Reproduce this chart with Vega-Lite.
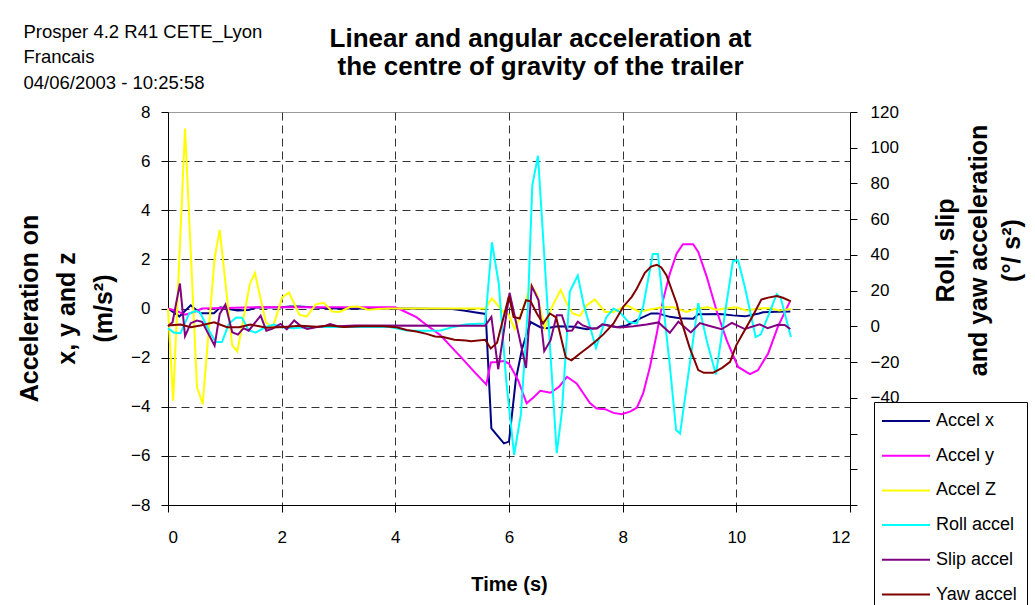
{
  "$schema": "https://vega.github.io/schema/vega-lite/v6.json",
  "width": 682,
  "height": 393,
  "autosize": "none",
  "padding": {"left": 168, "top": 112, "right": 185, "bottom": 100},
  "background": "white",
  "config": {
    "font": "Liberation Sans",
    "view": {"stroke": "#9a9a9a", "strokeWidth": 1},
    "axis": {"domainColor": "black", "tickColor": "black", "labelColor": "black", "titleColor": "black", "labelFontSize": 17, "labelFont": "Liberation Sans", "titleFont": "Liberation Sans", "tickSize": 7, "domainWidth": 1, "tickWidth": 1}
  },
  "title": {
    "text": ["Linear and angular acceleration at", "the centre of gravity of the trailer"],
    "font": "Liberation Sans",
    "fontSize": 26,
    "fontWeight": "bold",
    "color": "black",
    "anchor": "middle",
    "frame": "group",
    "baseline": "alphabetic",
    "lineHeight": 27.7,
    "offset": 0,
    "dx": 31.5,
    "dy": 79
  },
  "data": {"values": [
    {"s":"Accel x","t":0,"v":0},{"s":"Accel x","t":0.2,"v":-0.32},{"s":"Accel x","t":0.4,"v":0.13},{"s":"Accel x","t":0.57,"v":-0.19},{"s":"Accel x","t":0.81,"v":-0.19},{"s":"Accel x","t":0.92,"v":0.05},{"s":"Accel x","t":1.07,"v":-0.02},{"s":"Accel x","t":1.22,"v":-0.08},{"s":"Accel x","t":1.42,"v":-0.06},{"s":"Accel x","t":1.54,"v":0.04},{"s":"Accel x","t":2.0,"v":0.05},{"s":"Accel x","t":2.15,"v":0.08},{"s":"Accel x","t":2.3,"v":0.08},{"s":"Accel x","t":2.74,"v":0.02},{"s":"Accel x","t":3.0,"v":0},{"s":"Accel x","t":4.0,"v":0},{"s":"Accel x","t":5.0,"v":-0.02},{"s":"Accel x","t":5.2,"v":-0.08},{"s":"Accel x","t":5.39,"v":-0.15},{"s":"Accel x","t":5.59,"v":-0.22},{"s":"Accel x","t":5.69,"v":-4.88},{"s":"Accel x","t":5.91,"v":-5.49},{"s":"Accel x","t":6.0,"v":-5.42},{"s":"Accel x","t":6.12,"v":-2.9},{"s":"Accel x","t":6.23,"v":-1.64},{"s":"Accel x","t":6.38,"v":-0.55},{"s":"Accel x","t":6.55,"v":-0.76},{"s":"Accel x","t":6.67,"v":-0.8},{"s":"Accel x","t":6.85,"v":-0.72},{"s":"Accel x","t":7.14,"v":-0.74},{"s":"Accel x","t":7.37,"v":-0.84},{"s":"Accel x","t":7.55,"v":-0.8},{"s":"Accel x","t":7.66,"v":-0.64},{"s":"Accel x","t":7.9,"v":-0.76},{"s":"Accel x","t":8.07,"v":-0.69},{"s":"Accel x","t":8.31,"v":-0.4},{"s":"Accel x","t":8.5,"v":-0.2},{"s":"Accel x","t":8.62,"v":-0.2},{"s":"Accel x","t":8.83,"v":-0.34},{"s":"Accel x","t":9.01,"v":-0.4},{"s":"Accel x","t":9.24,"v":-0.42},{"s":"Accel x","t":9.33,"v":-0.23},{"s":"Accel x","t":9.71,"v":-0.22},{"s":"Accel x","t":9.94,"v":-0.28},{"s":"Accel x","t":10.15,"v":-0.32},{"s":"Accel x","t":10.4,"v":-0.2},{"s":"Accel x","t":10.47,"v":-0.15},{"s":"Accel x","t":10.7,"v":-0.13},{"s":"Accel x","t":10.95,"v":-0.12},
    {"s":"Accel y","t":0,"v":0},{"s":"Accel y","t":0.15,"v":-0.1},{"s":"Accel y","t":0.3,"v":-0.25},{"s":"Accel y","t":0.45,"v":-0.15},{"s":"Accel y","t":0.6,"v":0},{"s":"Accel y","t":1.0,"v":0.02},{"s":"Accel y","t":1.6,"v":0.05},{"s":"Accel y","t":4.0,"v":0.05},{"s":"Accel y","t":4.1,"v":-0.05},{"s":"Accel y","t":4.37,"v":-0.35},{"s":"Accel y","t":4.6,"v":-0.76},{"s":"Accel y","t":4.8,"v":-1.1},{"s":"Accel y","t":4.96,"v":-1.5},{"s":"Accel y","t":5.15,"v":-1.97},{"s":"Accel y","t":5.39,"v":-2.58},{"s":"Accel y","t":5.6,"v":-3.09},{"s":"Accel y","t":5.68,"v":-2.2},{"s":"Accel y","t":5.77,"v":-2.18},{"s":"Accel y","t":5.91,"v":-2.14},{"s":"Accel y","t":6.0,"v":-2.24},{"s":"Accel y","t":6.16,"v":-2.92},{"s":"Accel y","t":6.31,"v":-3.86},{"s":"Accel y","t":6.44,"v":-3.6},{"s":"Accel y","t":6.55,"v":-3.35},{"s":"Accel y","t":6.73,"v":-3.43},{"s":"Accel y","t":6.88,"v":-3.19},{"s":"Accel y","t":7.02,"v":-2.78},{"s":"Accel y","t":7.19,"v":-3.05},{"s":"Accel y","t":7.31,"v":-3.46},{"s":"Accel y","t":7.42,"v":-3.84},{"s":"Accel y","t":7.54,"v":-4.07},{"s":"Accel y","t":7.69,"v":-4.1},{"s":"Accel y","t":7.84,"v":-4.25},{"s":"Accel y","t":7.98,"v":-4.3},{"s":"Accel y","t":8.13,"v":-4.2},{"s":"Accel y","t":8.25,"v":-4.04},{"s":"Accel y","t":8.36,"v":-3.46},{"s":"Accel y","t":8.48,"v":-2.38},{"s":"Accel y","t":8.6,"v":-1.02},{"s":"Accel y","t":8.71,"v":0.34},{"s":"Accel y","t":8.83,"v":1.42},{"s":"Accel y","t":8.95,"v":2.24},{"s":"Accel y","t":9.06,"v":2.62},{"s":"Accel y","t":9.24,"v":2.62},{"s":"Accel y","t":9.33,"v":2.3},{"s":"Accel y","t":9.48,"v":1.29},{"s":"Accel y","t":9.65,"v":-0.07},{"s":"Accel y","t":9.83,"v":-1.29},{"s":"Accel y","t":10.03,"v":-2.38},{"s":"Accel y","t":10.24,"v":-2.67},{"s":"Accel y","t":10.38,"v":-2.51},{"s":"Accel y","t":10.56,"v":-1.83},{"s":"Accel y","t":10.73,"v":-0.75},{"s":"Accel y","t":10.94,"v":0.27},
    {"s":"Accel Z","t":0,"v":0},{"s":"Accel Z","t":0.09,"v":-3.75},{"s":"Accel Z","t":0.3,"v":7.33},{"s":"Accel Z","t":0.51,"v":-3.2},{"s":"Accel Z","t":0.61,"v":-3.9},{"s":"Accel Z","t":0.82,"v":2.05},{"s":"Accel Z","t":0.91,"v":3.2},{"s":"Accel Z","t":1.13,"v":-1.5},{"s":"Accel Z","t":1.22,"v":-1.75},{"s":"Accel Z","t":1.44,"v":1.0},{"s":"Accel Z","t":1.53,"v":1.44},{"s":"Accel Z","t":1.72,"v":-0.55},{"s":"Accel Z","t":1.84,"v":-0.8},{"s":"Accel Z","t":2.01,"v":0.45},{"s":"Accel Z","t":2.13,"v":0.65},{"s":"Accel Z","t":2.31,"v":-0.25},{"s":"Accel Z","t":2.44,"v":-0.33},{"s":"Accel Z","t":2.6,"v":0.17},{"s":"Accel Z","t":2.74,"v":0.23},{"s":"Accel Z","t":2.89,"v":-0.12},{"s":"Accel Z","t":3.02,"v":-0.14},{"s":"Accel Z","t":3.2,"v":0.06},{"s":"Accel Z","t":3.34,"v":0.08},{"s":"Accel Z","t":3.52,"v":-0.05},{"s":"Accel Z","t":3.7,"v":-0.02},{"s":"Accel Z","t":3.9,"v":0},{"s":"Accel Z","t":4.5,"v":0},{"s":"Accel Z","t":5.0,"v":0},{"s":"Accel Z","t":5.58,"v":0},{"s":"Accel Z","t":5.7,"v":0.41},{"s":"Accel Z","t":5.91,"v":-0.16},{"s":"Accel Z","t":5.99,"v":-0.23},{"s":"Accel Z","t":6.1,"v":-0.84},{"s":"Accel Z","t":6.19,"v":-0.36},{"s":"Accel Z","t":6.39,"v":0.96},{"s":"Accel Z","t":6.49,"v":0.58},{"s":"Accel Z","t":6.63,"v":-0.8},{"s":"Accel Z","t":6.75,"v":0.04},{"s":"Accel Z","t":6.91,"v":0.76},{"s":"Accel Z","t":7.02,"v":0.18},{"s":"Accel Z","t":7.12,"v":-0.2},{"s":"Accel Z","t":7.25,"v":-0.3},{"s":"Accel Z","t":7.37,"v":0.13},{"s":"Accel Z","t":7.51,"v":0.37},{"s":"Accel Z","t":7.69,"v":-0.14},{"s":"Accel Z","t":7.84,"v":-0.14},{"s":"Accel Z","t":8.07,"v":0.13},{"s":"Accel Z","t":8.3,"v":-0.14},{"s":"Accel Z","t":8.45,"v":-0.05},{"s":"Accel Z","t":8.7,"v":0.05},{"s":"Accel Z","t":8.9,"v":0.05},{"s":"Accel Z","t":9.12,"v":-0.14},{"s":"Accel Z","t":9.3,"v":0},{"s":"Accel Z","t":9.5,"v":0.05},{"s":"Accel Z","t":9.65,"v":-0.05},{"s":"Accel Z","t":9.8,"v":0},{"s":"Accel Z","t":10.0,"v":0.05},{"s":"Accel Z","t":10.18,"v":-0.08},{"s":"Accel Z","t":10.4,"v":0},{"s":"Accel Z","t":10.6,"v":0.02},{"s":"Accel Z","t":10.75,"v":-0.08},{"s":"Accel Z","t":10.96,"v":-0.02},
    {"s":"Roll accel","t":0,"v":-1},{"s":"Roll accel","t":0.1,"v":-3.5},{"s":"Roll accel","t":0.22,"v":-3.8},{"s":"Roll accel","t":0.37,"v":7},{"s":"Roll accel","t":0.49,"v":8.7},{"s":"Roll accel","t":0.57,"v":7.5},{"s":"Roll accel","t":0.72,"v":-2.3},{"s":"Roll accel","t":0.84,"v":-8.8},{"s":"Roll accel","t":0.95,"v":-8.8},{"s":"Roll accel","t":1.07,"v":1.4},{"s":"Roll accel","t":1.2,"v":5},{"s":"Roll accel","t":1.3,"v":4.8},{"s":"Roll accel","t":1.42,"v":-2.2},{"s":"Roll accel","t":1.54,"v":-3.5},{"s":"Roll accel","t":1.71,"v":-0.5},{"s":"Roll accel","t":1.86,"v":1},{"s":"Roll accel","t":2.0,"v":-0.5},{"s":"Roll accel","t":2.2,"v":-1},{"s":"Roll accel","t":2.5,"v":-0.3},{"s":"Roll accel","t":3.9,"v":-0.3},{"s":"Roll accel","t":4.2,"v":-2.3},{"s":"Roll accel","t":4.55,"v":-2.5},{"s":"Roll accel","t":4.8,"v":-2.3},{"s":"Roll accel","t":5.02,"v":-0.3},{"s":"Roll accel","t":5.26,"v":1.2},{"s":"Roll accel","t":5.58,"v":1.6},{"s":"Roll accel","t":5.7,"v":47},{"s":"Roll accel","t":5.82,"v":24},{"s":"Roll accel","t":5.95,"v":-30},{"s":"Roll accel","t":6.09,"v":-72},{"s":"Roll accel","t":6.21,"v":-49},{"s":"Roll accel","t":6.33,"v":9},{"s":"Roll accel","t":6.41,"v":79},{"s":"Roll accel","t":6.51,"v":95.5},{"s":"Roll accel","t":6.84,"v":-71},{"s":"Roll accel","t":6.93,"v":-48},{"s":"Roll accel","t":7.07,"v":19.5},{"s":"Roll accel","t":7.21,"v":28.5},{"s":"Roll accel","t":7.31,"v":12.8},{"s":"Roll accel","t":7.53,"v":-12},{"s":"Roll accel","t":7.71,"v":5},{"s":"Roll accel","t":7.84,"v":10},{"s":"Roll accel","t":7.95,"v":8},{"s":"Roll accel","t":8.1,"v":2.5},{"s":"Roll accel","t":8.25,"v":1.6},{"s":"Roll accel","t":8.36,"v":11},{"s":"Roll accel","t":8.53,"v":40.5},{"s":"Roll accel","t":8.62,"v":40.5},{"s":"Roll accel","t":8.72,"v":10},{"s":"Roll accel","t":8.83,"v":-22},{"s":"Roll accel","t":8.94,"v":-58},{"s":"Roll accel","t":9.01,"v":-60},{"s":"Roll accel","t":9.33,"v":13},{"s":"Roll accel","t":9.48,"v":-8},{"s":"Roll accel","t":9.64,"v":-27},{"s":"Roll accel","t":9.78,"v":3},{"s":"Roll accel","t":9.94,"v":36.5},{"s":"Roll accel","t":10.03,"v":37},{"s":"Roll accel","t":10.15,"v":22},{"s":"Roll accel","t":10.34,"v":-6},{"s":"Roll accel","t":10.43,"v":-4.5},{"s":"Roll accel","t":10.55,"v":5},{"s":"Roll accel","t":10.71,"v":18},{"s":"Roll accel","t":10.78,"v":16},{"s":"Roll accel","t":10.96,"v":-6},
    {"s":"Slip accel","t":0,"v":0},{"s":"Slip accel","t":0.08,"v":2.3},{"s":"Slip accel","t":0.21,"v":24},{"s":"Slip accel","t":0.3,"v":-5.5},{"s":"Slip accel","t":0.4,"v":1.8},{"s":"Slip accel","t":0.51,"v":3.3},{"s":"Slip accel","t":0.6,"v":2.5},{"s":"Slip accel","t":0.82,"v":-10.8},{"s":"Slip accel","t":0.91,"v":7},{"s":"Slip accel","t":1.01,"v":12.2},{"s":"Slip accel","t":1.13,"v":-3.3},{"s":"Slip accel","t":1.23,"v":-4.6},{"s":"Slip accel","t":1.33,"v":-1},{"s":"Slip accel","t":1.42,"v":-2.4},{"s":"Slip accel","t":1.63,"v":6},{"s":"Slip accel","t":1.73,"v":-2.4},{"s":"Slip accel","t":1.83,"v":-1.4},{"s":"Slip accel","t":1.98,"v":1.4},{"s":"Slip accel","t":2.09,"v":-1.6},{"s":"Slip accel","t":2.22,"v":3.3},{"s":"Slip accel","t":2.34,"v":0},{"s":"Slip accel","t":2.45,"v":-1.5},{"s":"Slip accel","t":2.6,"v":-0.5},{"s":"Slip accel","t":2.74,"v":0},{"s":"Slip accel","t":2.85,"v":1.3},{"s":"Slip accel","t":3.0,"v":0},{"s":"Slip accel","t":3.3,"v":0.5},{"s":"Slip accel","t":5.58,"v":0.3},{"s":"Slip accel","t":5.69,"v":5.3},{"s":"Slip accel","t":5.81,"v":-24},{"s":"Slip accel","t":6.01,"v":18.8},{"s":"Slip accel","t":6.3,"v":-23.3},{"s":"Slip accel","t":6.4,"v":22.5},{"s":"Slip accel","t":6.52,"v":14.6},{"s":"Slip accel","t":6.62,"v":-13.9},{"s":"Slip accel","t":6.73,"v":-7.9},{"s":"Slip accel","t":6.84,"v":6.2},{"s":"Slip accel","t":6.93,"v":6.2},{"s":"Slip accel","t":7.02,"v":-2.5},{"s":"Slip accel","t":7.11,"v":-2.3},{"s":"Slip accel","t":7.21,"v":2.6},{"s":"Slip accel","t":7.3,"v":0.5},{"s":"Slip accel","t":7.45,"v":-1.2},{"s":"Slip accel","t":7.55,"v":-1.2},{"s":"Slip accel","t":7.64,"v":1.2},{"s":"Slip accel","t":7.8,"v":0},{"s":"Slip accel","t":7.95,"v":-0.6},{"s":"Slip accel","t":8.19,"v":0.1},{"s":"Slip accel","t":8.42,"v":1.1},{"s":"Slip accel","t":8.63,"v":2.2},{"s":"Slip accel","t":8.83,"v":-3.6},{"s":"Slip accel","t":8.98,"v":2.6},{"s":"Slip accel","t":9.2,"v":-3.4},{"s":"Slip accel","t":9.36,"v":1.8},{"s":"Slip accel","t":9.5,"v":0.5},{"s":"Slip accel","t":9.74,"v":-1.6},{"s":"Slip accel","t":9.92,"v":2},{"s":"Slip accel","t":10.15,"v":-1.5},{"s":"Slip accel","t":10.41,"v":1.1},{"s":"Slip accel","t":10.55,"v":-1},{"s":"Slip accel","t":10.73,"v":0.9},{"s":"Slip accel","t":10.85,"v":0.8},{"s":"Slip accel","t":10.95,"v":-1.5},
    {"s":"Yaw accel","t":0,"v":0.5},{"s":"Yaw accel","t":0.22,"v":1},{"s":"Yaw accel","t":0.4,"v":-0.5},{"s":"Yaw accel","t":0.57,"v":0.5},{"s":"Yaw accel","t":0.81,"v":2.3},{"s":"Yaw accel","t":1.04,"v":-0.5},{"s":"Yaw accel","t":1.25,"v":-0.5},{"s":"Yaw accel","t":1.45,"v":1},{"s":"Yaw accel","t":1.74,"v":-0.8},{"s":"Yaw accel","t":2.03,"v":-0.3},{"s":"Yaw accel","t":2.33,"v":0.3},{"s":"Yaw accel","t":2.62,"v":-0.2},{"s":"Yaw accel","t":2.85,"v":0.5},{"s":"Yaw accel","t":3.09,"v":-0.3},{"s":"Yaw accel","t":3.4,"v":0},{"s":"Yaw accel","t":3.79,"v":0},{"s":"Yaw accel","t":4.02,"v":-0.5},{"s":"Yaw accel","t":4.2,"v":-2},{"s":"Yaw accel","t":4.37,"v":-2.9},{"s":"Yaw accel","t":4.55,"v":-4.2},{"s":"Yaw accel","t":4.7,"v":-5.7},{"s":"Yaw accel","t":4.84,"v":-6},{"s":"Yaw accel","t":5.04,"v":-7.5},{"s":"Yaw accel","t":5.24,"v":-7.9},{"s":"Yaw accel","t":5.33,"v":-8.3},{"s":"Yaw accel","t":5.58,"v":-7.5},{"s":"Yaw accel","t":5.68,"v":-12.4},{"s":"Yaw accel","t":5.79,"v":-9.2},{"s":"Yaw accel","t":6.0,"v":17},{"s":"Yaw accel","t":6.08,"v":5.3},{"s":"Yaw accel","t":6.19,"v":4.4},{"s":"Yaw accel","t":6.3,"v":14.6},{"s":"Yaw accel","t":6.38,"v":14},{"s":"Yaw accel","t":6.49,"v":7.2},{"s":"Yaw accel","t":6.6,"v":1.6},{"s":"Yaw accel","t":6.72,"v":7.2},{"s":"Yaw accel","t":6.83,"v":5},{"s":"Yaw accel","t":7.0,"v":-17.5},{"s":"Yaw accel","t":7.1,"v":-19},{"s":"Yaw accel","t":7.25,"v":-15.2},{"s":"Yaw accel","t":7.4,"v":-11.6},{"s":"Yaw accel","t":7.51,"v":-8.7},{"s":"Yaw accel","t":7.66,"v":-4.5},{"s":"Yaw accel","t":7.84,"v":1.6},{"s":"Yaw accel","t":8.01,"v":11},{"s":"Yaw accel","t":8.16,"v":16.5},{"s":"Yaw accel","t":8.25,"v":21.2},{"s":"Yaw accel","t":8.39,"v":30},{"s":"Yaw accel","t":8.5,"v":33.5},{"s":"Yaw accel","t":8.6,"v":34.5},{"s":"Yaw accel","t":8.68,"v":33},{"s":"Yaw accel","t":8.77,"v":28.6},{"s":"Yaw accel","t":8.95,"v":12.8},{"s":"Yaw accel","t":9.01,"v":5.3},{"s":"Yaw accel","t":9.18,"v":-12},{"s":"Yaw accel","t":9.33,"v":-24.5},{"s":"Yaw accel","t":9.43,"v":-26},{"s":"Yaw accel","t":9.59,"v":-26},{"s":"Yaw accel","t":9.75,"v":-23.2},{"s":"Yaw accel","t":9.89,"v":-19.9},{"s":"Yaw accel","t":10.0,"v":-10.5},{"s":"Yaw accel","t":10.15,"v":-2.1},{"s":"Yaw accel","t":10.3,"v":6.5},{"s":"Yaw accel","t":10.44,"v":15},{"s":"Yaw accel","t":10.56,"v":16.1},{"s":"Yaw accel","t":10.71,"v":17},{"s":"Yaw accel","t":10.82,"v":16},{"s":"Yaw accel","t":10.96,"v":14}
  ]},
  "encoding": {
    "color": {
      "field": "s",
      "type": "nominal",
      "scale": {
        "domain": ["Accel x", "Accel y", "Accel Z", "Roll accel", "Slip accel", "Yaw accel"],
        "range": ["#000080", "#ff00ff", "#ffff00", "#00ffff", "#800080", "#800000"]
      },
      "legend": {
        "orient": "none",
        "legendX": 706,
        "legendY": 290,
        "title": null,
        "direction": "vertical",
        "strokeColor": "black",
        "fillColor": "white",
        "padding": 10,
        "cornerRadius": 0,
        "symbolType": "M-4,0H4",
        "symbolSize": 144,
        "symbolStrokeWidth": 2,
        "symbolOffset": 13,
        "labelOffset": 21,
        "labelFontSize": 18,
        "labelFont": "Liberation Sans",
        "labelColor": "black",
        "rowPadding": 16.7
      }
    }
  },
  "layer": [
    {
      "transform": [{"filter": {"field": "s", "oneOf": ["Accel x", "Accel y", "Accel Z"]}}],
      "mark": {"type": "line", "strokeWidth": 2},
      "encoding": {
        "x": {
          "field": "t", "type": "quantitative",
          "scale": {"domain": [0, 12], "nice": false, "zero": false},
          "axis": {
            "orient": "bottom",
            "values": [0, 2, 4, 6, 8, 10, 12],
            "format": "d",
            "labelPadding": 17,
            "grid": true,
            "gridColor": "#333333",
            "gridDash": [8, 5],
            "gridWidth": 1,
            "gridOpacity": {"condition": {"test": "datum.value < 1 || datum.value > 11", "value": 0}, "value": 1},
            "title": "Time (s)",
            "titleFontSize": 20,
            "titleFontWeight": "bold",
            "titleBaseline": "alphabetic",
            "titleY": 85
          }
        },
        "y": {
          "field": "v", "type": "quantitative",
          "scale": {"domain": [-8, 8], "nice": false, "zero": false},
          "axis": {
            "orient": "left",
            "values": [-8, -6, -4, -2, 0, 2, 4, 6, 8],
            "format": "d",
            "labelPadding": 11,
            "grid": true,
            "gridColor": "#333333",
            "gridDash": [8, 5],
            "gridWidth": 1,
            "gridOpacity": {"condition": {"test": "abs(datum.value) > 7", "value": 0}, "value": 1},
            "title": ["Acceleration on", "x, y and z", "(m/s²)"],
            "titleFontSize": 25,
            "titleFontWeight": "bold",
            "titleAngle": -90,
            "titleAlign": "center",
            "titleBaseline": "alphabetic",
            "titleLineHeight": 37,
            "titleX": -131,
            "titleY": 196
          }
        },
        "order": {"field": "t", "type": "quantitative"}
      }
    },
    {
      "transform": [{"filter": {"field": "s", "oneOf": ["Roll accel", "Slip accel", "Yaw accel"]}}],
      "mark": {"type": "line", "strokeWidth": 2},
      "encoding": {
        "x": {
          "field": "t", "type": "quantitative",
          "scale": {"domain": [0, 12], "nice": false, "zero": false},
          "axis": {
            "orient": "top",
            "labels": false,
            "ticks": false,
            "domain": false,
            "grid": false,
            "title": ["Prosper 4.2 R41 CETE_Lyon", "Francais", "04/06/2003 - 10:25:58"],
            "titleFontSize": 18.5,
            "titleFontWeight": "normal",
            "titleAlign": "left",
            "titleAnchor": "start",
            "titleBaseline": "alphabetic",
            "titleLineHeight": 25.8,
            "titleX": -145,
            "titleY": -75
          }
        },
        "y": {
          "field": "v", "type": "quantitative",
          "scale": {"domain": [-100, 120], "nice": false, "zero": false},
          "axis": {
            "orient": "right",
            "values": [-100, -80, -60, -40, -20, 0, 20, 40, 60, 80, 100, 120],
            "format": "d",
            "labelExpr": "datum.value < -40 ? '' : datum.label",
            "labelPadding": 13,
            "grid": false,
            "title": ["Roll, slip", "and yaw acceleration", "(°/ s²)"],
            "titleFontSize": 25,
            "titleFontWeight": "bold",
            "titleAngle": -90,
            "titleAlign": "center",
            "titleBaseline": "alphabetic",
            "titleLineHeight": 33,
            "titleX": 103,
            "titleY": 138
          }
        },
        "order": {"field": "t", "type": "quantitative"}
      }
    }
  ],
  "resolve": {"scale": {"y": "independent"}, "axis": {"x": "independent", "y": "independent"}}
}
